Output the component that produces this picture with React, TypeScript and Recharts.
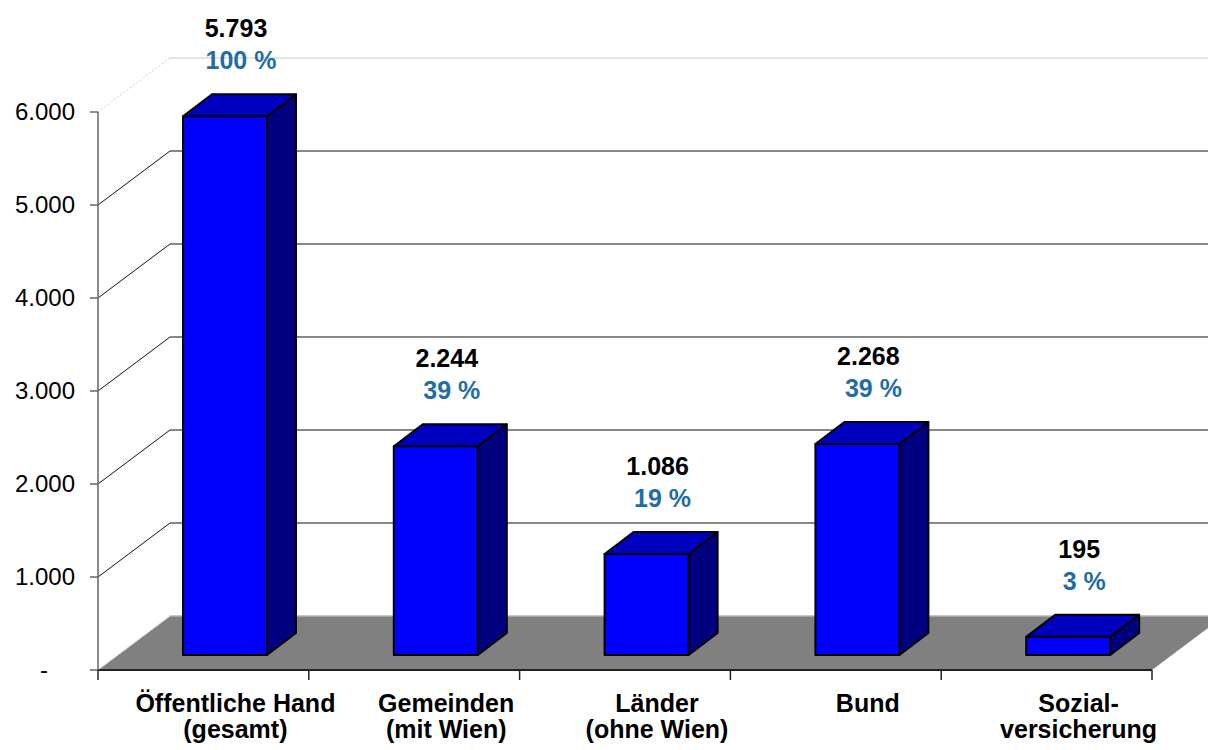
import { BarChart, Bar, XAxis, YAxis, CartesianGrid, LabelList } from "recharts";

const categories = [
  "Öffentliche Hand\n(gesamt)",
  "Gemeinden\n(mit Wien)",
  "Länder\n(ohne Wien)",
  "Bund",
  "Sozial-\nversicherung",
];
const values = [5793, 2244, 1086, 2268, 195];
const percents = ["100 %", "39 %", "19 %", "39 %", "3 %"];
const yTicks = [0, 1000, 2000, 3000, 4000, 5000, 6000];

const data = categories.map((name, i) => ({ name, value: values[i] }));

const FONT = "'Liberation Sans', Arial, sans-serif";
const PCT_COLOR = "#1f6da6";

// perspective of floor / back wall
const WALL_DX = 72;
const WALL_DY = 54;
// bar front plane sits a bit behind the axis plane
const SHIFT_X = 22;
const SHIFT_Y = 15;
// depth of the bars themselves
const BAR_DX = 29;
const BAR_DY = 22;

const fmt = (v: number) => String(v).replace(/\B(?=(\d{3})+(?!\d))/g, ".");

const Bar3D = (props: any) => {
  const { x, y, width, height } = props;
  if (height == null || width == null) return null;
  const fx = x + SHIFT_X;
  const fy = y - SHIFT_Y;
  const r = fx + width;
  const b = fy + height;
  const top = `${fx},${fy} ${fx + BAR_DX},${fy - BAR_DY} ${r + BAR_DX},${fy - BAR_DY} ${r},${fy}`;
  const side = `${r},${fy} ${r + BAR_DX},${fy - BAR_DY} ${r + BAR_DX},${b - BAR_DY} ${r},${b}`;
  return (
    <g stroke="#000" strokeWidth={2} strokeLinejoin="round">
      <polygon points={side} fill="#000080" />
      <polygon points={top} fill="#0000c0" />
      <rect x={fx} y={fy} width={width} height={height} fill="#0000ff" />
    </g>
  );
};

const GridLine = (props: any) => {
  const { x1, x2, y1, y, height } = props;
  const plotTop = y ?? 112;
  const plotBottom = (y ?? 112) + (height ?? 558);
  const bx1 = x1 + WALL_DX;
  const bx2 = x2 + WALL_DX;
  const by = y1 - WALL_DY;

  if (Math.abs(y1 - plotBottom) < 0.5) {
    // grey floor
    return (
      <g>
        <polygon
          points={`${x1},${y1} ${x2},${y1} ${bx2},${by} ${bx1},${by}`}
          fill="#808080"
        />
        <line x1={bx1} y1={by} x2={bx2} y2={by} stroke="#b4b4b4" strokeWidth={1.5} />
        <line x1={x1} y1={y1} x2={bx1} y2={by} stroke="#d8d8d8" strokeWidth={1} />
      </g>
    );
  }
  if (Math.abs(y1 - plotTop) < 0.5) {
    return (
      <g>
        <line x1={x1} y1={y1} x2={bx1} y2={by} stroke="#cfcfcf" strokeDasharray="2 2" />
        <line x1={bx1} y1={by} x2={bx2} y2={by} stroke="#dddddd" strokeWidth={1.5} />
      </g>
    );
  }
  return (
    <g stroke="#111" strokeWidth={1}>
      <line x1={x1} y1={y1} x2={bx1} y2={by} />
      <line x1={bx1} y1={by} x2={bx2} y2={by} />
    </g>
  );
};

const YTick = (props: any) => {
  const { x, y, payload } = props;
  const v = payload.value;
  return (
    <text
      x={v === 0 ? x - 31 : x}
      y={y}
      dy="0.35em"
      textAnchor={v === 0 ? "middle" : "end"}
      fontFamily={FONT}
      fontSize={24}
      fill="#000"
    >
      {v === 0 ? "-" : fmt(v)}
    </text>
  );
};

const XTick = (props: any) => {
  const { x, y, payload, index } = props;
  const half = payload.offset || 105.4;
  const lines = String(payload.value).split("\n");
  const cx = x + SHIFT_X + 10;
  return (
    <g>
      {index === 0 && (
        <line x1={x - half} y1={y - 10} x2={x - half} y2={y} stroke="#222" strokeWidth={1.5} />
      )}
      <line x1={x + half} y1={y - 10} x2={x + half} y2={y} stroke="#222" strokeWidth={1.5} />
      {lines.map((t, i) => (
        <text
          key={i}
          x={cx}
          y={y + 32 + i * 26}
          textAnchor="middle"
          fontFamily={FONT}
          fontSize={25}
          fontWeight="bold"
          fill="#000"
        >
          {t}
        </text>
      ))}
    </g>
  );
};

const ValueLabel = (props: any) => {
  const { x, y, width, index } = props;
  const cx = x + width / 2 + SHIFT_X + 11;
  const base = y - SHIFT_Y - 88 + 9;
  return (
    <g fontFamily={FONT} fontSize={25} fontWeight="bold" textAnchor="middle">
      <text x={cx} y={base} fill="#000">
        {fmt(values[index])}
      </text>
      <text x={cx + 5} y={base + 32} fill={PCT_COLOR}>
        {percents[index]}
      </text>
    </g>
  );
};

export default function App() {
  return (
    <div style={{ width: 1208, height: 750, background: "#fff" }}>
      <style>{"body{margin:0;}"}</style>
      <BarChart
        width={1208}
        height={750}
        data={data}
        margin={{ top: 112, right: 56, bottom: 0, left: 0 }}
      >
        <CartesianGrid horizontal={GridLine} vertical={false} />
        <XAxis
          dataKey="name"
          interval={0}
          height={80}
          axisLine={{ stroke: "#222", strokeWidth: 2 }}
          tickLine={false}
          tickSize={10}
          tickMargin={0}
          tick={<XTick />}
        />
        <YAxis
          width={98}
          domain={[0, 6000]}
          ticks={yTicks}
          interval={0}
          axisLine={{ stroke: "#666", strokeWidth: 1.5 }}
          tickLine={{ stroke: "#666", strokeWidth: 1.5 }}
          tickSize={8}
          tickMargin={15}
          tick={<YTick />}
        />
        <Bar dataKey="value" barSize={84} shape={<Bar3D />} isAnimationActive={false}>
          <LabelList dataKey="value" content={<ValueLabel />} />
        </Bar>
      </BarChart>
    </div>
  );
}
